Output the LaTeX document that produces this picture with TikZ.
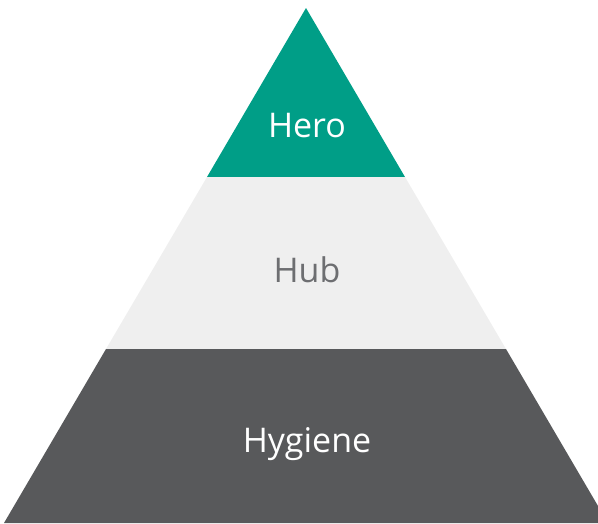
\documentclass[tikz,border=0pt]{standalone}
\usepackage{fontspec}
\setmainfont{Open Sans}
\definecolor{herogreen}{HTML}{009E87}
\definecolor{hubgray}{HTML}{EFEFEF}
\definecolor{hygienegray}{HTML}{58595B}
\definecolor{hubtext}{HTML}{6D6E71}
\begin{document}
\begin{tikzpicture}[x=1pt,y=-1pt,
  layer/.style={draw=none},
  label/.style={anchor=base,font=\fontsize{34}{40}\selectfont,inner sep=0pt}]
\useasboundingbox (0,0) rectangle (598,523);
\clip (0,0) rectangle (598,523);
\fill [style=layer,fill=herogreen] (306,8) -- (405,177) -- (207,177) -- cycle;
\fill [style=layer,fill=hubgray] (207,177) -- (405,177) -- (506,349) -- (106,349) -- cycle;
\fill [style=layer,fill=hygienegray] (106,349) -- (506,349) -- (608,523) -- (4,523) -- cycle;
\node [style=label,text=white] (hero) at (307,137) {Hero};
\node [style=label,text=hubtext] (hub) at (307,282) {Hub};
\node [style=label,text=white] (hygiene) at (307,452) {Hygiene};
\end{tikzpicture}
\end{document}
